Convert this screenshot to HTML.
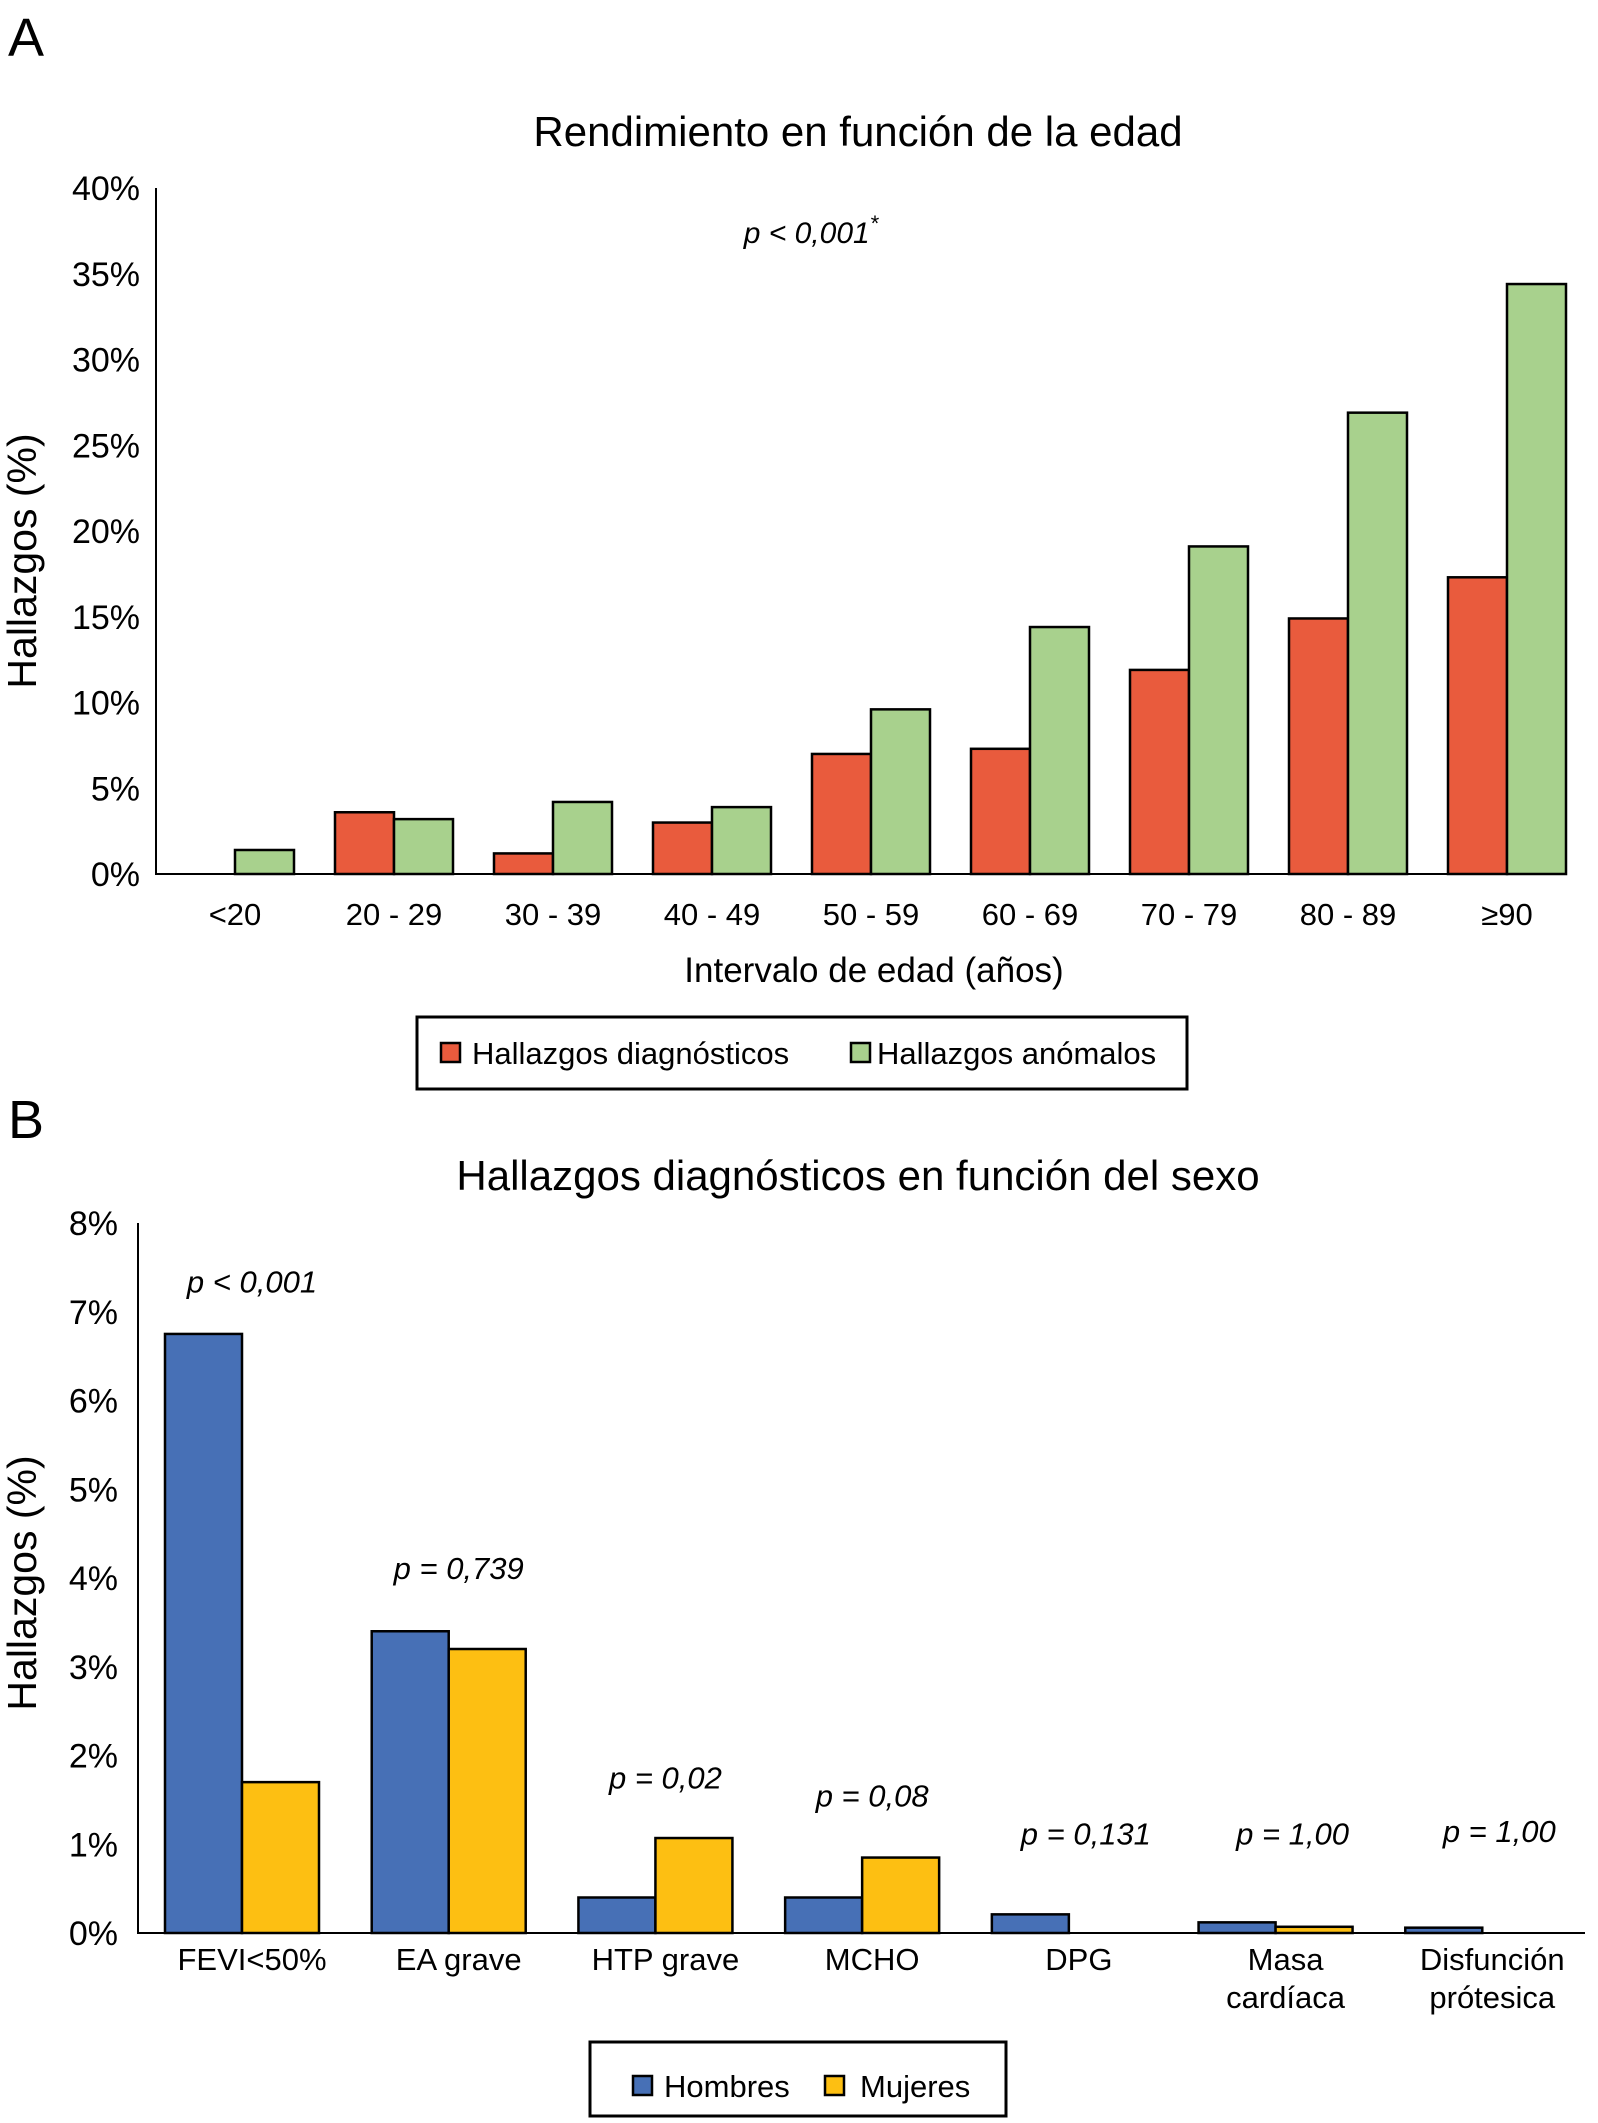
<!DOCTYPE html>
<html><head><meta charset="utf-8"><style>
html,body{margin:0;padding:0;background:#fff;}
svg{display:block;font-family:"Liberation Sans",sans-serif;}
</style></head><body>
<svg id="fig" width="1598" height="2123" viewBox="0 0 1598 2123" xmlns="http://www.w3.org/2000/svg">
<text x="8" y="56" font-size="54">A</text>
<text x="858" y="146" font-size="42" text-anchor="middle">Rendimiento en función de la edad</text>
<text x="811" y="243" font-size="30" font-style="italic" text-anchor="middle">p &lt; 0,001<tspan font-size="22" dy="-12">*</tspan></text>
<text transform="translate(36,561) rotate(-90)" font-size="41" text-anchor="middle">Hallazgos (%)</text>
<text x="874" y="982" font-size="35" text-anchor="middle">Intervalo de edad (años)</text>
<g id="ga"></g>
<rect x="417" y="1017" width="770" height="72" fill="none" stroke="#000" stroke-width="3"/>
<rect x="441" y="1043" width="19" height="19" fill="#e95b3d" stroke="#000" stroke-width="2.5"/>
<text x="472" y="1064" font-size="31">Hallazgos diagnósticos</text>
<rect x="851" y="1043" width="19" height="19" fill="#a8d18d" stroke="#000" stroke-width="2.5"/>
<text x="877" y="1064" font-size="31">Hallazgos anómalos</text>

<text x="8" y="1138" font-size="54">B</text>
<text x="858" y="1190" font-size="42" text-anchor="middle">Hallazgos diagnósticos en función del sexo</text>
<text transform="translate(36,1583) rotate(-90)" font-size="41" text-anchor="middle">Hallazgos (%)</text>
<g id="gb"></g>
<rect x="590" y="2042" width="416" height="74" fill="none" stroke="#000" stroke-width="3"/>
<rect x="633" y="2076" width="19" height="19" fill="#4770b6" stroke="#000" stroke-width="2.5"/>
<text x="664" y="2097" font-size="31">Hombres</text>
<rect x="825" y="2076" width="19" height="19" fill="#fdbf12" stroke="#000" stroke-width="2.5"/>
<text x="860" y="2097" font-size="31">Mujeres</text>
</svg>
<script>
const catsA = ["<20","20 - 29","30 - 39","40 - 49","50 - 59","60 - 69","70 - 79","80 - 89","\u226590"];
const diagA = [0,3.6,1.2,3.0,7.0,7.3,11.9,14.9,17.3];
const anomA = [1.4,3.2,4.2,3.9,9.6,14.4,19.1,26.9,34.4];
const ticksA = ["0%","5%","10%","15%","20%","25%","30%","35%","40%"];
const tickValsA = [0,5,10,15,20,25,30,35,40];

const catsB = [["FEVI<50%"],["EA grave"],["HTP grave"],["MCHO"],["DPG"],["Masa","cardíaca"],["Disfunción","prótesica"]];
const menB = [6.75,3.4,0.4,0.4,0.21,0.12,0.06];
const womenB = [1.7,3.2,1.07,0.85,0,0.07,0];
const pvalsB = ["p < 0,001","p = 0,739","p = 0,02","p = 0,08","p = 0,131","p = 1,00","p = 1,00"];
const pYB = [7.34,4.11,1.75,1.55,1.12,1.12,1.15];
const ticksB = ["0%","1%","2%","3%","4%","5%","6%","7%","8%"];
const tickValsB = [0,1,2,3,4,5,6,7,8];

const NS="http://www.w3.org/2000/svg";
function mk(parent,tag,attrs,text){const e=document.createElementNS(NS,tag);for(const k in attrs)e.setAttribute(k,attrs[k]);if(text!==undefined)e.textContent=text;parent.appendChild(e);return e;}

// Chart A
(function(){
  const g=document.getElementById('ga');
  const x0=156,x1=1566,yB=874,yT=188,vmax=40;
  const y=v=>yB-(v/vmax)*(yB-yT);
  const gw=159, bw=59, off=20;
  tickValsA.forEach((v,i)=>{
    const t=mk(g,'text',{x:140,y:y(v)+12,'font-size':34,'text-anchor':'end'},ticksA[i]);
    
    
  });
  catsA.forEach((c,i)=>{
    const gx=x0+i*gw+off;
    if(diagA[i]>0){
      const r=mk(g,'rect',{x:gx,y:y(diagA[i]),width:bw,height:yB-y(diagA[i]),fill:'#e95b3d',stroke:'#000','stroke-width':2.5});
      
      
    }
    const r2=mk(g,'rect',{x:gx+bw,y:y(anomA[i]),width:bw,height:yB-y(anomA[i]),fill:'#a8d18d',stroke:'#000','stroke-width':2.5});
    
    
    const t=mk(g,'text',{x:gx+bw,y:925,'font-size':31,'text-anchor':'middle'},c);
    
    
  });
  const ax=mk(g,'path',{d:`M${x0} ${yT} V${yB} H${x1}`,fill:'none',stroke:'#000','stroke-width':2});
  
  
})();

// Chart B
(function(){
  const g=document.getElementById('gb');
  const x0=138,x1=1585,yB=1933,yT=1223,vmax=8;
  const y=v=>yB-(v/vmax)*(yB-yT);
  const gw=(x1-x0)/catsB.length, bw=77, off=27;
  tickValsB.forEach((v,i)=>{
    const t=mk(g,'text',{x:118,y:y(v)+12,'font-size':34,'text-anchor':'end'},ticksB[i]);
    
    
  });
  catsB.forEach((c,i)=>{
    const gx=x0+i*gw+off;
    if(menB[i]>0){
      const r=mk(g,'rect',{x:gx,y:y(menB[i]),width:bw,height:yB-y(menB[i]),fill:'#4770b6',stroke:'#000','stroke-width':2.5});
      
      
    }
    if(womenB[i]>0){
      const r2=mk(g,'rect',{x:gx+bw,y:y(womenB[i]),width:bw,height:yB-y(womenB[i]),fill:'#fdbf12',stroke:'#000','stroke-width':2.5});
      
      
    }
    c.forEach((line,j)=>{
      const t=mk(g,'text',{x:gx+bw+10,y:1970+j*38,'font-size':31,'text-anchor':'middle'},line);
      
      
    });
    const p=mk(g,'text',{x:gx+bw+(i>3?17:10),y:y(pYB[i])+11,'font-size':31,'font-style':'italic','text-anchor':'middle'},pvalsB[i]);
    
    
  });
  const ax=mk(g,'path',{d:`M${x0} ${yT} V${yB} H${x1}`,fill:'none',stroke:'#000','stroke-width':2});
  
  
})();
</script>
</body></html>
